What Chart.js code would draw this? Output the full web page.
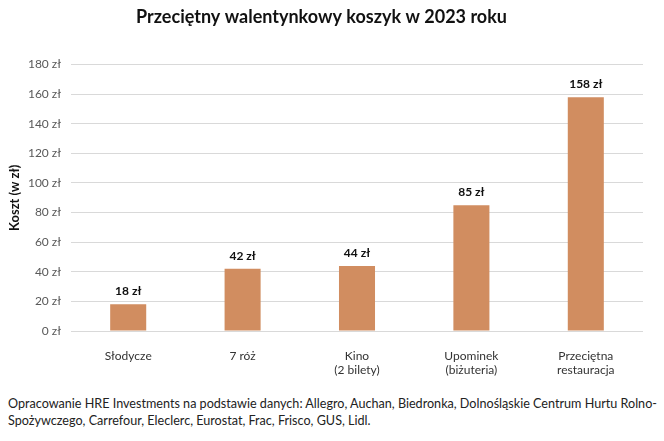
<!DOCTYPE html>
<html lang="pl">
<head>
<meta charset="utf-8">
<script src="https://cdn.jsdelivr.net/npm/chart.js@4/dist/chart.umd.min.js"></script>
<style>
  html, body { margin: 0; padding: 0; background: #fff; }
  #wrap { position: relative; width: 664px; height: 441px; }
  #chartBox { position: absolute; left: 0; top: 0; width: 664px; height: 390px; }
  #note { position: absolute; left: 8px; top: 395px; font-family: Lato, "Open Sans", sans-serif; font-size: 12.6px; line-height: 17px; color: #222; white-space: nowrap; }
</style>
</head>
<body>
<div id="wrap">
  <div id="chartBox"><canvas id="myChart"></canvas></div>
  <div id="note">Opracowanie HRE Investments na podstawie danych: Allegro, Auchan, Biedronka, Dolnośląskie Centrum Hurtu Rolno-<br>Spożywczego, Carrefour, Eleclerc, Eurostat, Frac, Frisco, GUS, Lidl.</div>
</div>
<script>
const categories = [['Słodycze'], ['7 róż'], ['Kino', '(2 bilety)'], ['Upominek', '(biżuteria)'], ['Przeciętna', 'restauracja']];
const values = [18, 42, 44, 85, 158];
const tickValues = [0, 20, 40, 60, 80, 100, 120, 140, 160, 180];

const barColor = '#D18D60';
const font = 'Lato, "Open Sans", sans-serif';

// etykiety nad słupkami
const valueLabels = {
  id: 'valueLabels',
  afterDatasetsDraw(chart) {
    const c = chart.ctx;
    const meta = chart.getDatasetMeta(0);
    c.save();
    c.font = 'bold 12px ' + font;
    c.fillStyle = '#111';
    c.textAlign = 'center';
    c.textBaseline = 'middle';
    meta.data.forEach((bar, i) => {
      c.fillText(values[i] + ' zł', bar.x, bar.y - 13);
    });
    c.restore();
  }
};

const ctx = document.getElementById('myChart');
new Chart(ctx, {
  type: 'bar',
  data: {
    labels: categories,
    datasets: [{ data: values, backgroundColor: barColor, barPercentage: 0.63, categoryPercentage: 0.5 }]
  },
  options: {
    responsive: true,
    maintainAspectRatio: false,
    animation: false,
    layout: { padding: { left: 0, right: 21, top: 0, bottom: 0 } },
    plugins: {
      legend: { display: false },
      tooltip: { enabled: false },
      title: {
        display: true,
        text: 'Przeciętny walentynkowy koszyk w 2023 roku',
        color: '#111',
        font: { family: font, size: 18, weight: 'bold' },
        padding: { top: 6, bottom: 37 }
      }
    },
    scales: {
      x: {
        grid: { display: false },
        border: { display: false },
        ticks: { color: '#333', font: { family: font, size: 12 }, padding: 10, maxRotation: 0, autoSkip: false },
        afterFit(s) { s.height = 59; }
      },
      y: {
        min: 0,
        max: 180,
        afterBuildTicks(s) { s.ticks = tickValues.map(v => ({ value: v })); },
        grid: { color: '#d9d9d9', drawTicks: false },
        border: { display: false },
        ticks: { color: '#595959', font: { family: font, size: 12 }, padding: 10, callback: v => v + ' zł' },
        title: { display: true, text: 'Koszt (w zł)', color: '#111', font: { family: font, size: 13, weight: 'bold' }, padding: { top: 7, bottom: 0 } },
        afterFit(s) { s.width = 71; }
      }
    }
  },
  plugins: [valueLabels]
});
</script>
</body>
</html>
